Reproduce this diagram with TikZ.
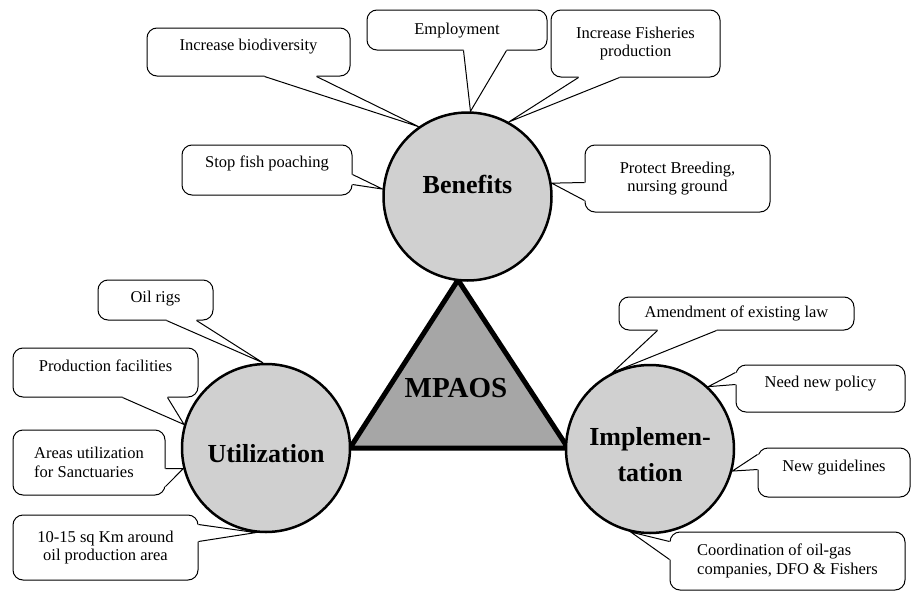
\documentclass[tikz,border=0pt]{standalone}
\usepackage{fontspec}
\setmainfont{Liberation Serif}
\usetikzlibrary{calc}
\pgfdeclarelayer{background}
\pgfsetlayers{background,main}
\definecolor{hubgray}{HTML}{D0D0D0}
\definecolor{coregray}{HTML}{A6A6A6}

% callout pointer: #1,#2 = base points on the box edge, #3 = inward offset, #4 = tip
\newcommand\callptr[4]{%
  \fill[white] ($(#1)+(#3)$) -- (#1) -- (#4) -- (#2) -- ($(#2)+(#3)$) -- cycle;
  \draw[ptrline] (#1) -- (#4) -- (#2);}

\tikzset{
  hub/.style={circle, draw, line width=2.5pt, fill=hubgray, minimum size=168pt,
    inner sep=0pt, font=\fontsize{26}{29}\selectfont\bfseries, align=center},
  note/.style={draw, line width=1pt, rounded corners=10pt, fill=white,
    inner sep=0pt, font=\fontsize{16.5}{18.5}\selectfont, align=center},
  oneline/.style={text height=12pt, text depth=#1},
  oneline/.default=4pt,
  ptrline/.style={line width=1pt, line join=miter},
}

\begin{document}
\begin{tikzpicture}[x=1pt,y=-1pt]
\useasboundingbox (0,0) rectangle (914,592);

% central triangle
\filldraw[line width=5pt, fill=coregray, line join=miter]
  (458,280) -- (350,448) -- (568,448) -- cycle;
\node[font=\fontsize{29}{30}\selectfont\bfseries] (core) at (456,388) {MPAOS};

% the three themes
\node[hub, text depth=24pt] (ben) at (467.5,196.5) {Benefits};
\node[hub, text height=28pt, text depth=0pt] (util) at (266,448) {Utilization};
\node[hub, font=\fontsize{26}{36}\selectfont\bfseries] (impl) at (650,449)
  {\rule{0pt}{30pt}Implemen-\\tation};

\begin{pgfonlayer}{background}
% Benefits
\node[note, oneline=16pt, minimum width=203pt, minimum height=48pt] (bio) at (248.5,52) {Increase biodiversity};
\coordinate (bio-a) at ($(bio.south west)+(118,0)$);
\coordinate (bio-b) at ($(bio.south west)+(170,0)$);
\callptr{bio-a}{bio-b}{0,-3}{ben.125.6}

\node[note, oneline, minimum width=180pt, minimum height=40pt] (emp) at (457,30) {Employment};
\coordinate (emp-a) at ($(emp.south west)+(97,0)$);
\coordinate (emp-b) at ($(emp.south west)+(140,0)$);
\callptr{emp-a}{emp-b}{0,-3}{ben.88}

\node[note, minimum width=169pt, minimum height=67pt] (fish) at (635.5,43.5) {Increase Fisheries\\production};
\coordinate (fish-a) at ($(fish.south west)+(28,0)$);
\coordinate (fish-b) at ($(fish.south west)+(69,0)$);
\callptr{fish-a}{fish-b}{0,-3}{ben.61}

\node[note, oneline=18pt, minimum width=170pt, minimum height=50pt] (stop) at (267,170) {Stop fish poaching};
\coordinate (stop-a) at ($(stop.north east)+(0,30)$);
\coordinate (stop-b) at ($(stop.north east)+(0,40)$);
\callptr{stop-a}{stop-b}{-3,0}{ben.175.5}

\node[note, minimum width=185pt, minimum height=67pt] (prot) at (677.5,178.5) {Protect Breeding,\\nursing ground};
\coordinate (prot-a) at ($(prot.north west)+(0,38)$);
\coordinate (prot-b) at ($(prot.north west)+(0,56)$);
\callptr{prot-a}{prot-b}{3,0}{ben.9}

% Utilization
\node[note, oneline=8pt, minimum width=115pt, minimum height=40pt] (rigs) at (155.5,300) {Oil rigs};
\coordinate (rigs-a) at ($(rigs.south west)+(69,0)$);
\coordinate (rigs-b) at ($(rigs.south west)+(99,0)$);
\callptr{rigs-a}{rigs-b}{0,-3}{util.92}

\node[note, oneline=15pt, minimum width=185pt, minimum height=49pt] (prod) at (105.5,372.5) {Production facilities};
\coordinate (prod-a) at ($(prod.south west)+(110,0)$);
\coordinate (prod-b) at ($(prod.south west)+(155,0)$);
\callptr{prod-a}{prod-b}{0,-3}{util.164.5}

\node[note, align=left, minimum width=152pt, minimum height=65pt] (area) at (89,462.5) {Areas utilization\\for Sanctuaries};
\coordinate (area-a) at ($(area.north east)+(0,39)$);
\coordinate (area-b) at ($(area.north east)+(0,57)$);
\callptr{area-a}{area-b}{-3,0}{util.194}

\node[note, minimum width=185pt, minimum height=65pt] (zone) at (105.5,547.5) {10-15 sq Km around\\oil production area};
\coordinate (zone-a) at ($(zone.north east)+(0,10)$);
\coordinate (zone-b) at ($(zone.north east)+(0,27)$);
\callptr{zone-a}{zone-b}{-3,0}{util.263}

% Implementation
\node[note, oneline, minimum width=235pt, minimum height=33pt] (law) at (736.5,313.5) {Amendment of existing law};
\coordinate (law-a) at ($(law.south west)+(39,0)$);
\coordinate (law-b) at ($(law.south west)+(98,0)$);
\callptr{law-a}{law-b}{0,-3}{impl.116}

\node[note, oneline=15pt, minimum width=169pt, minimum height=47pt] (pol) at (820.5,388.5) {Need new policy};
\coordinate (pol-a) at ($(pol.north west)+(0,8)$);
\coordinate (pol-b) at ($(pol.north west)+(0,20)$);
\callptr{pol-a}{pol-b}{3,0}{impl.47}

\node[note, oneline=15pt, minimum width=152pt, minimum height=49pt] (guide) at (834,472.5) {New guidelines};
\coordinate (guide-a) at ($(guide.north west)+(0,7)$);
\coordinate (guide-b) at ($(guide.north west)+(0,22)$);
\callptr{guide-a}{guide-b}{3,0}{impl.345.6}

\node[note, align=left, minimum width=235pt, minimum height=58pt] (coord) at (787.5,561) {Coordination of oil-gas\\companies, DFO \& Fishers};
\coordinate (coord-a) at ($(coord.north west)+(0,10)$);
\coordinate (coord-b) at ($(coord.north west)+(0,28)$);
\callptr{coord-a}{coord-b}{3,0}{impl.257}
\end{pgfonlayer}
\end{tikzpicture}
\end{document}
